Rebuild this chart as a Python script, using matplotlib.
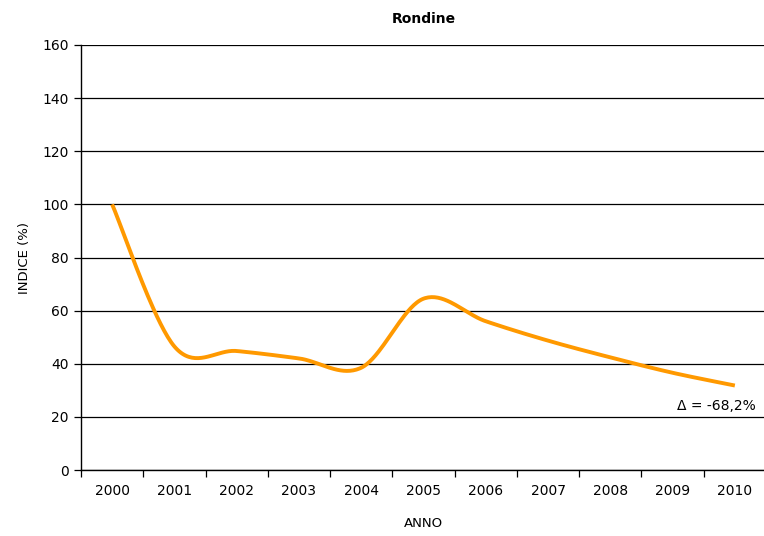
import numpy as np
import matplotlib
matplotlib.use('Agg')
import matplotlib.pyplot as plt

# Rondine index, 2000 = 100
anni = ['2000', '2001', '2002', '2003', '2004', '2005', '2006', '2007', '2008', '2009', '2010']
indice = [100, 46.5, 44.8, 42.0, 38.5, 64.5, 56.0, 48.7, 42.4, 36.6, 31.8]
delta_label = '\u0394 = -68,2%'
yticks = [0, 20, 40, 60, 80, 100, 120, 140, 160]


def smooth_curve(x, y, n=40):
    # Catmull-Rom style spline through the points (like spreadsheet smoothed lines)
    x = np.asarray(x, float)
    y = np.asarray(y, float)
    px = np.concatenate([[x[0]], x, [x[-1]]])
    py = np.concatenate([[y[0]], y, [y[-1]]])
    xs, ys = [], []
    for i in range(1, len(px) - 2):
        p0x, p1x, p2x, p3x = px[i - 1:i + 3]
        p0y, p1y, p2y, p3y = py[i - 1:i + 3]
        t = np.linspace(0, 1, n)
        c1x = p1x + (p2x - p0x) / 6
        c1y = p1y + (p2y - p0y) / 6
        c2x = p2x - (p3x - p1x) / 6
        c2y = p2y - (p3y - p1y) / 6
        bx = (1-t)**3*p1x + 3*(1-t)**2*t*c1x + 3*(1-t)*t**2*c2x + t**3*p2x
        by = (1-t)**3*p1y + 3*(1-t)**2*t*c1y + 3*(1-t)*t**2*c2y + t**3*p2y
        xs.append(bx)
        ys.append(by)
    return np.concatenate(xs), np.concatenate(ys)


fig = plt.figure(figsize=(7.64, 5.36), dpi=100)
ax = fig.add_axes([81/764, 1 - 470/536, 685/764, 425/536])

xpos = np.arange(len(anni))
sx, sy = smooth_curve(xpos, indice)
ax.plot(sx, sy, color='#FF9900', lw=2.8, solid_capstyle='butt', zorder=3)

ax.set_xlim(-0.5, len(anni) - 0.5)
ax.set_ylim(0, 160)
ax.set_yticks(yticks)
ax.yaxis.grid(True, color='black', lw=0.9)
ax.set_axisbelow(True)

ax.set_xticks(xpos)
ax.set_xticklabels(anni)
ax.set_xticks(np.arange(-0.5, len(anni), 1), minor=True)
ax.tick_params(axis='x', which='major', length=0, pad=10, labelsize=10, colors='black')
ax.tick_params(axis='x', which='minor', length=5, width=0.9, direction='out')
ax.tick_params(axis='y', length=5, width=0.9, direction='out', labelsize=10, pad=4)

for side in ['top', 'right']:
    ax.spines[side].set_visible(False)
for side in ['left', 'bottom']:
    ax.spines[side].set_linewidth(1.0)
    ax.spines[side].set_color('black')

ax.set_title('Rondine', fontsize=10, fontweight='bold', pad=16)
ax.set_xlabel('ANNO', fontsize=9.5, labelpad=14)
ax.set_ylabel('INDICE (%)', fontsize=9.5, labelpad=8)

ax.text(xpos[-1] + 0.33, 24, delta_label, ha='right', va='center', fontsize=10)

fig.savefig('out.png', dpi=100)
